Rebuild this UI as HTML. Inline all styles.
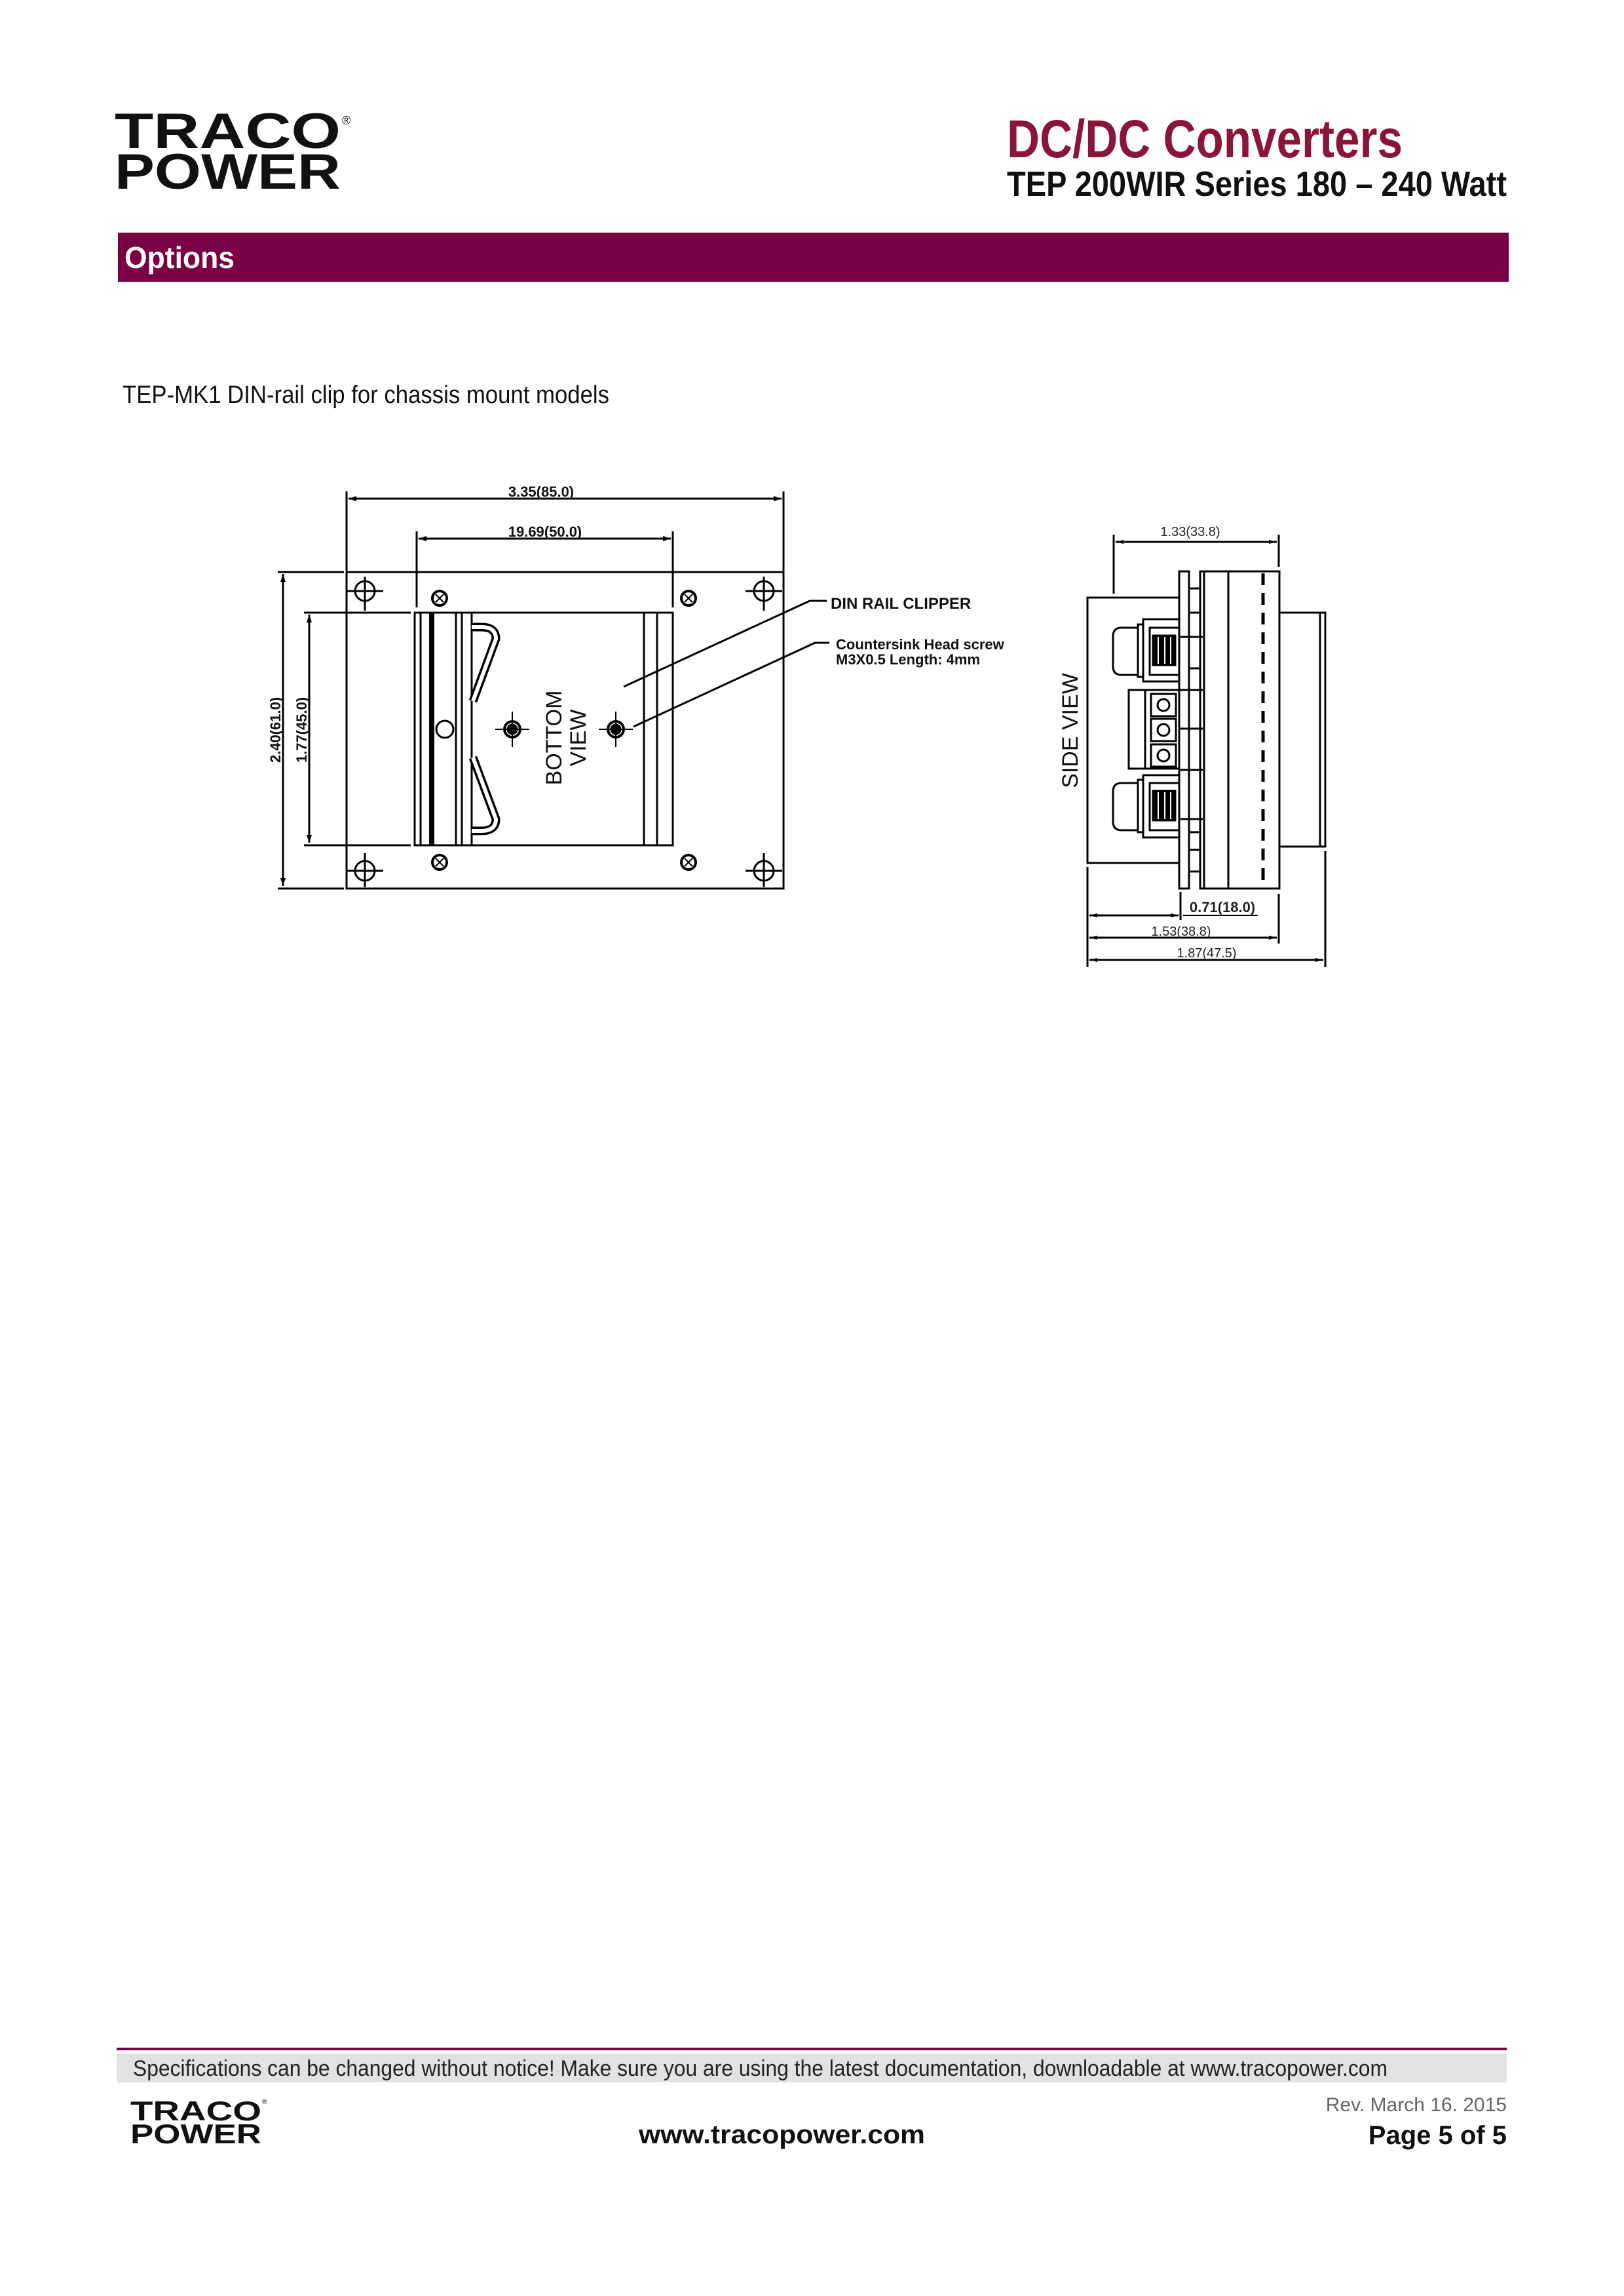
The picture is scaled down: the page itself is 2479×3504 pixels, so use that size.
<!DOCTYPE html>
<html><head><meta charset="utf-8"><style>html,body{margin:0;padding:0;background:#fff}svg{display:block}</style></head>
<body>
<svg width="2479" height="3504" viewBox="0 0 2479 3504" xmlns="http://www.w3.org/2000/svg" font-family="Liberation Sans, sans-serif">
<rect width="2479" height="3504" fill="#fff"/>
<!-- header -->
<text x="175" y="226" font-size="76" font-weight="bold" textLength="345" lengthAdjust="spacingAndGlyphs" fill="#111">TRACO</text>
<text x="175" y="288" font-size="76" font-weight="bold" textLength="345" lengthAdjust="spacingAndGlyphs" fill="#111">POWER</text>
<text x="522" y="190" font-size="18" fill="#111">®</text>
<text x="1537" y="240" font-size="82" font-weight="bold" textLength="604" lengthAdjust="spacingAndGlyphs" fill="#8a1538">DC/DC Converters</text>
<text x="1537" y="299" font-size="54" font-weight="bold" textLength="763" lengthAdjust="spacingAndGlyphs" fill="#111">TEP 200WIR Series  180 – 240 Watt</text>
<rect x="180" y="355" width="2123" height="75" fill="#7a0046"/>
<text x="190" y="409" font-size="46" font-weight="bold" textLength="168" lengthAdjust="spacingAndGlyphs" fill="#fff">Options</text>
<text x="187" y="615" font-size="38" textLength="743" lengthAdjust="spacingAndGlyphs" fill="#111">TEP-MK1 DIN-rail clip for chassis mount models</text>

<!-- bottom view -->
<g stroke="#000" stroke-width="3" fill="none">
<rect x="529" y="873" width="667" height="483"/>
<line x1="424" y1="873" x2="525" y2="873"/><line x1="424" y1="1356" x2="525" y2="1356"/>
<line x1="432" y1="876" x2="432" y2="1352"/>
<line x1="464" y1="935" x2="627" y2="935"/><line x1="464" y1="1290" x2="627" y2="1290"/>
<line x1="472" y1="938" x2="472" y2="1286"/>
<line x1="529" y1="750" x2="529" y2="871"/><line x1="1196" y1="750" x2="1196" y2="871"/>
<line x1="532" y1="761" x2="1193" y2="761"/>
<line x1="636" y1="811" x2="636" y2="927"/><line x1="1027" y1="811" x2="1027" y2="927"/>
<line x1="639" y1="822" x2="1024" y2="822"/>
<rect x="633" y="935" width="394" height="355"/>
<line x1="642" y1="935" x2="642" y2="1290"/>
<line x1="659" y1="935" x2="659" y2="1290" stroke-width="8"/>
<line x1="696" y1="935" x2="696" y2="1290"/>
<line x1="705" y1="935" x2="705" y2="1290"/>
<line x1="720" y1="935" x2="720" y2="1290"/>
<line x1="983" y1="935" x2="983" y2="1290"/>
<line x1="1003" y1="935" x2="1003" y2="1290"/>
<circle cx="679" cy="1113" r="13"/>
<path d="M720,957 L735,957 Q757,957 757,975 L722,1070" stroke-width="13"/>
<path d="M720,957 L735,957 Q757,957 757,975 L722,1070" stroke="#fff" stroke-width="6"/>
<path d="M720,1268 L735,1268 Q757,1268 757,1250 L722,1156" stroke-width="13"/>
<path d="M720,1268 L735,1268 Q757,1268 757,1250 L722,1156" stroke="#fff" stroke-width="6"/>
<g>
<circle cx="557" cy="902" r="15"/><line x1="529" y1="902" x2="585" y2="902"/><line x1="557" y1="880" x2="557" y2="932"/>
<circle cx="1166" cy="902" r="15"/><line x1="1138" y1="902" x2="1194" y2="902"/><line x1="1166" y1="880" x2="1166" y2="932"/>
<circle cx="557" cy="1329" r="15"/><line x1="529" y1="1329" x2="585" y2="1329"/><line x1="557" y1="1302" x2="557" y2="1354"/>
<circle cx="1166" cy="1329" r="15"/><line x1="1138" y1="1329" x2="1194" y2="1329"/><line x1="1166" y1="1302" x2="1166" y2="1354"/>
</g>
<g stroke-width="4">
<circle cx="671" cy="913" r="11"/><circle cx="1051" cy="913" r="11"/><circle cx="671" cy="1316" r="11"/><circle cx="1051" cy="1316" r="11"/>
<circle cx="782" cy="1113" r="12"/><circle cx="940" cy="1113" r="12"/>
</g>
<g stroke-width="2">
<path d="M665,907 l12,12 M677,907 l-12,12 M1045,907 l12,12 M1057,907 l-12,12 M665,1310 l12,12 M677,1310 l-12,12 M1045,1310 l12,12 M1057,1310 l-12,12"/>
<path d="M756,1113 h52 M782,1086 v54 M914,1113 h52 M940,1086 v54"/>
</g>
<circle cx="782" cy="1113" r="7" fill="#000"/><circle cx="940" cy="1113" r="7" fill="#000"/>
<polyline points="952,1048 1236,917 1262,917"/>
<polyline points="967,1109 1244,981 1266,981"/>
</g>
<g fill="#000" stroke="none">
<path d="M532,761 l12,-4 v8z M1193,761 l-12,-4 v8z M639,822 l12,-4 v8z M1024,822 l-12,-4 v8z M432,876 l-4,12 h8z M432,1352 l-4,-12 h8z M472,938 l-4,12 h8z M472,1286 l-4,-12 h8z"/>
</g>
<g font-size="22" font-weight="bold" fill="#111">
<text x="826" y="758" text-anchor="middle">3.35(85.0)</text>
<text x="832" y="819" text-anchor="middle">19.69(50.0)</text>
<text transform="translate(428,1114) rotate(-90)" text-anchor="middle">2.40(61.0)</text>
<text transform="translate(468,1114) rotate(-90)" text-anchor="middle">1.77(45.0)</text>
<text x="1268" y="929" font-size="24">DIN RAIL CLIPPER</text>
<text x="1276" y="991" font-size="22">Countersink Head screw</text>
<text x="1276" y="1014" font-size="22">M3X0.5 Length: 4mm</text>
</g>
<g font-size="34" fill="#111">
<text transform="translate(857,1126) rotate(-90)" text-anchor="middle">BOTTOM</text>
<text transform="translate(894,1126) rotate(-90)" text-anchor="middle">VIEW</text>
<text transform="translate(1645,1115) rotate(-90)" text-anchor="middle">SIDE  VIEW</text>
</g>

<!-- side view -->
<g stroke="#000" stroke-width="3" fill="none">
<rect x="1660" y="912" width="140" height="405"/>
<rect x="1800" y="872" width="15" height="484"/>
<line x1="1832" y1="872" x2="1832" y2="1356"/>
<path d="M1815,898 h17 M1815,935 h17 M1815,1020 h17 M1815,1053 h17 M1815,1112 h17 M1815,1175 h17 M1815,1270 h17 M1815,1297 h17 M1815,1330 h17"/>
<path d="M1800,972 h36 M1800,1053 h36 M1800,1112 h36 M1800,1175 h36 M1800,1250 h36"/>
<rect x="1832" y="872" width="121" height="484"/>
<line x1="1838" y1="872" x2="1838" y2="1356"/>
<line x1="1875" y1="872" x2="1875" y2="1356"/>
<line x1="1928" y1="875" x2="1928" y2="1353" stroke-width="5" stroke-dasharray="18,12"/>
<rect x="1953" y="935" width="70" height="357"/>
<line x1="2015" y1="935" x2="2015" y2="1292"/>
<path d="M1737,958 h-25 q-13,0 -13,13 v46 q0,13 13,13 h25z"/>
<rect x="1737" y="953" width="8" height="80"/>
<rect x="1745" y="945" width="55" height="95"/>
<rect x="1755" y="958" width="45" height="72"/>
<rect x="1760" y="970" width="34" height="45" fill="#000"/>
<path d="M1768,972 v41 M1778,972 v41 M1787,972 v41" stroke="#fff" stroke-width="2"/>
<rect x="1723" y="1053" width="77" height="120"/>
<line x1="1748" y1="1053" x2="1748" y2="1173"/>
<rect x="1757" y="1059" width="38" height="34"/><rect x="1757" y="1097" width="38" height="34"/><rect x="1757" y="1136" width="38" height="34"/>
<circle cx="1776" cy="1076" r="9"/><circle cx="1776" cy="1114" r="9"/><circle cx="1776" cy="1153" r="9"/>
<path d="M1737,1195 h-25 q-13,0 -13,13 v46 q0,13 13,13 h25z"/>
<rect x="1737" y="1190" width="8" height="80"/>
<rect x="1745" y="1183" width="55" height="95"/>
<rect x="1755" y="1195" width="45" height="72"/>
<rect x="1760" y="1207" width="34" height="45" fill="#000"/>
<path d="M1768,1209 v41 M1778,1209 v41 M1787,1209 v41" stroke="#fff" stroke-width="2"/>
<line x1="1700" y1="816" x2="1700" y2="906"/><line x1="1952" y1="816" x2="1952" y2="865"/>
<line x1="1703" y1="827" x2="1949" y2="827"/>
<line x1="1660" y1="1323" x2="1660" y2="1476"/>
<line x1="2023" y1="1299" x2="2023" y2="1476"/>
<line x1="1952" y1="1364" x2="1952" y2="1440"/>
<line x1="1802" y1="1361" x2="1802" y2="1404"/>
<line x1="1663" y1="1397" x2="1799" y2="1397"/>
<line x1="1806" y1="1397" x2="1920" y2="1397" stroke-width="2"/>
<line x1="1663" y1="1431" x2="1949" y2="1431"/>
<line x1="1663" y1="1465" x2="2020" y2="1465"/>
</g>
<g fill="#000">
<path d="M1703,827 l12,-3 v6z M1949,827 l-12,-3 v6z M1663,1397 l12,-3 v6z M1799,1397 l-12,-3 v6z M1663,1431 l12,-3 v6z M1949,1431 l-12,-3 v6z M1663,1465 l12,-3 v6z M2020,1465 l-12,-3 v6z"/>
</g>
<g font-size="20" fill="#222" text-anchor="middle">
<text x="1817" y="818">1.33(33.8)</text>
<text x="1866" y="1392" font-weight="bold" font-size="22">0.71(18.0)</text>
<text x="1803" y="1428">1.53(38.8)</text>
<text x="1842" y="1461">1.87(47.5)</text>
</g>

<!-- footer -->
<rect x="178" y="3125" width="2122" height="4" fill="#7a0046"/>
<rect x="178" y="3134" width="2122" height="44" fill="#e2e2e2"/>
<text x="203" y="3168" font-size="34" textLength="1915" lengthAdjust="spacingAndGlyphs" fill="#222">Specifications can be changed without notice! Make sure you are using the latest documentation, downloadable at www.tracopower.com</text>
<text x="199" y="3236" font-size="42" font-weight="bold" textLength="200" lengthAdjust="spacingAndGlyphs" fill="#111">TRACO</text>
<text x="199" y="3271" font-size="42" font-weight="bold" textLength="200" lengthAdjust="spacingAndGlyphs" fill="#111">POWER</text>
<text x="400" y="3211" font-size="11" fill="#111">®</text>
<text x="975" y="3271" font-size="40" font-weight="bold" textLength="437" lengthAdjust="spacingAndGlyphs" fill="#111">www.tracopower.com</text>
<text x="2300" y="3222" font-size="30" text-anchor="end" fill="#666">Rev. March 16. 2015</text>
<text x="2300" y="3272" font-size="40" font-weight="bold" text-anchor="end" fill="#111">Page 5 of 5</text>
</svg>
</body></html>
